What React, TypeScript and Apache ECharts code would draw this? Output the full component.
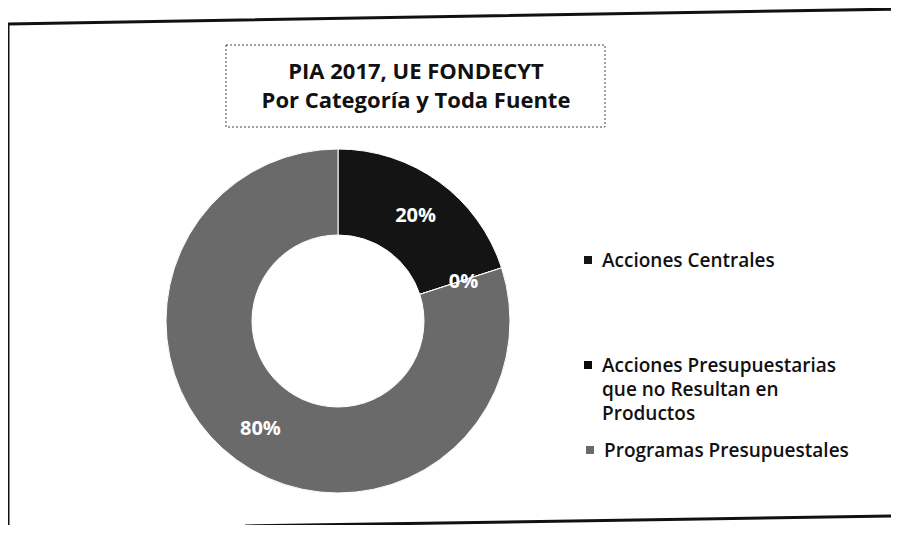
import React, { useEffect, useRef } from "react";
import * as echarts from "echarts";

const categories = [
  "Acciones Centrales",
  "Acciones Presupuestarias que no Resultan en Productos",
  "Programas Presupuestales",
];
const legendLabels = [
  "Acciones Centrales",
  "Acciones Presupuestarias\nque no Resultan en\nProductos",
  "Programas Presupuestales",
];
const values = [20, 0, 80];
const sliceColors = ["#141414", "#0a0a0a", "#6a6a6a"];
const titleLines = ["PIA 2017, UE FONDECYT", "Por Categoría y Toda Fuente"];

const FONT = "'Open Sans', 'Noto Sans', sans-serif";

export default function App() {
  const ref = useRef<HTMLDivElement>(null);
  useEffect(() => {
    if (!ref.current) return;
    const chart = echarts.init(ref.current, undefined, { renderer: "svg" });
    const legendTops = [248, 353, 438];
    const legendLefts = [582, 582, 584];
    const legendItemHeights = [10, 58, 10];
    const legendIcons = [
      "rect",
      "path://M0,0H10V10H0Z M0,57.9H0.1V58H0Z",
      "rect",
    ];
    const option: any = {
      animation: false,
      backgroundColor: "#ffffff",
      title: {
        text: titleLines.join("\n"),
        left: 416,
        top: 55,
        textAlign: "center",
        padding: 0,
        textStyle: {
          fontFamily: FONT,
          fontSize: 22,
          fontWeight: "bold",
          lineHeight: 29,
          color: "#111",
        },
      },
      legend: categories.map((name, i) => ({
        data: [name],
        orient: "vertical",
        left: legendLefts[i],
        top: legendTops[i],
        padding: 0,
        itemGap: 0,
        itemWidth: 10,
        itemHeight: legendItemHeights[i],
        icon: legendIcons[i],
        selectedMode: false,
        formatter: (n: string) => legendLabels[categories.indexOf(n)],
        textStyle: {
          fontFamily: FONT,
          fontSize: 19,
          fontWeight: 600,
          lineHeight: 24,
          color: "#111",
          padding: [0, 0, 0, 4],
        },
      })),
      graphic: [
        {
          type: "polyline",
          shape: { points: [[8, 533], [8, 24], [899, 9]] },
          style: { stroke: "#111", lineWidth: 3, fill: "none" },
          silent: true,
        },
        {
          type: "line",
          shape: { x1: 245, y1: 526, x2: 899, y2: 516 },
          style: { stroke: "#111", lineWidth: 3 },
          silent: true,
        },
        {
          type: "rect",
          shape: { x: 226, y: 45, width: 379, height: 82 },
          style: { stroke: "#444", lineWidth: 1, lineDash: [2, 2], fill: "none" },
          silent: true,
        },
      ],
      series: [
        {
          type: "pie",
          center: [338, 321],
          radius: [86, 172],
          startAngle: 90,
          clockwise: true,
          percentPrecision: 0,
          avoidLabelOverlap: false,
          itemStyle: { borderColor: "#ffffff", borderWidth: 1 },
          label: {
            show: true,
            position: "inside",
            formatter: "{d}%",
            color: "#ffffff",
            fontFamily: FONT,
            fontSize: 20,
            fontWeight: "bold",
          },
          labelLine: { show: false },
          emphasis: { disabled: true },
          data: categories.map((name, i) => ({
            name,
            value: values[i],
            itemStyle: { color: sliceColors[i] },
          })),
        },
      ],
    };
    chart.setOption(option);
    return () => chart.dispose();
  }, []);
  return <div ref={ref} style={{ width: 899, height: 533, margin: -8 }} />;
}
